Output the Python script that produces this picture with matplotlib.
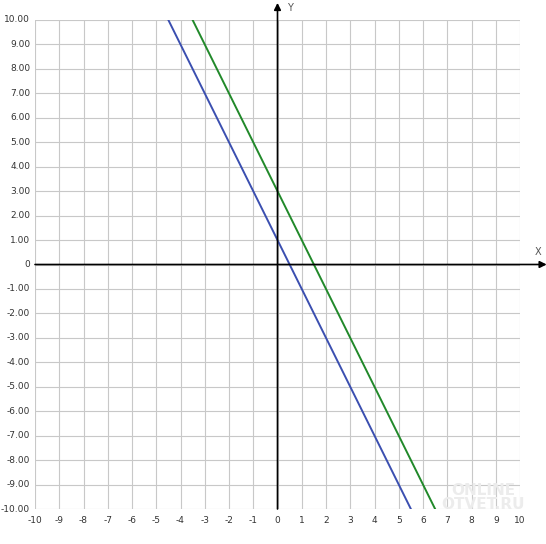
import matplotlib.pyplot as plt
import numpy as np

# data
x_ticks = list(range(-10, 11))
y_ticks = list(range(-10, 11))
blue_x = [-4.5, 5.5]
blue_y = [10, -10]
green_x = [-3.5, 6.5]
green_y = [10, -10]

W, H = 546, 544
fig = plt.figure(figsize=(W / 100, H / 100), dpi=100)
left, right, top, bottom = 35, 520, 20, 509
ax = fig.add_axes([left / W, (H - bottom) / H, (right - left) / W, (bottom - top) / H])
ax.set_xlim(-10, 10)
ax.set_ylim(-10, 10)

for v in x_ticks:
    ax.axvline(v, color='#c8c8c8', linewidth=0.8, zorder=1)
for v in y_ticks:
    ax.axhline(v, color='#c8c8c8', linewidth=0.8, zorder=1)

ax.plot(blue_x, blue_y, color='#3b4fb0', linewidth=1.4, zorder=3)
ax.plot(green_x, green_y, color='#21892a', linewidth=1.4, zorder=3)

for s in ax.spines.values():
    s.set_visible(False)
ax.set_xticks([])
ax.set_yticks([])

# main axes with arrows
ax.annotate('', xy=(11.1, 0), xytext=(-10, 0), annotation_clip=False,
            arrowprops=dict(arrowstyle='-|>', color='black', lw=1.2, mutation_scale=10,
                            shrinkA=0, shrinkB=0), zorder=4)
ax.annotate('', xy=(0, 10.7), xytext=(0, -10), annotation_clip=False,
            arrowprops=dict(arrowstyle='-|>', color='black', lw=1.2, mutation_scale=10,
                            shrinkA=0, shrinkB=0), zorder=4)
ax.text(10.75, 0.5, 'X', fontsize=7, color='#555555', ha='center', va='center', clip_on=False)
ax.text(0.4, 10.5, 'Y', fontsize=7, color='#555555', ha='left', va='center', clip_on=False)

for v in y_ticks:
    ax.text(-10.2, v, '0' if v == 0 else f'{v:.2f}', fontsize=6.5, color='#333333',
            ha='right', va='center', clip_on=False)
for v in x_ticks:
    ax.text(v, -10.45, str(v), fontsize=6.5, color='#333333',
            ha='center', va='center', clip_on=False)

# watermark
fig.text(0.885, 0.085, 'ONLINE\nOTVET.RU', fontsize=11, color='#ececec',
         ha='center', va='center', fontweight='bold', linespacing=0.9)

fig.savefig('out.png', dpi=100)
